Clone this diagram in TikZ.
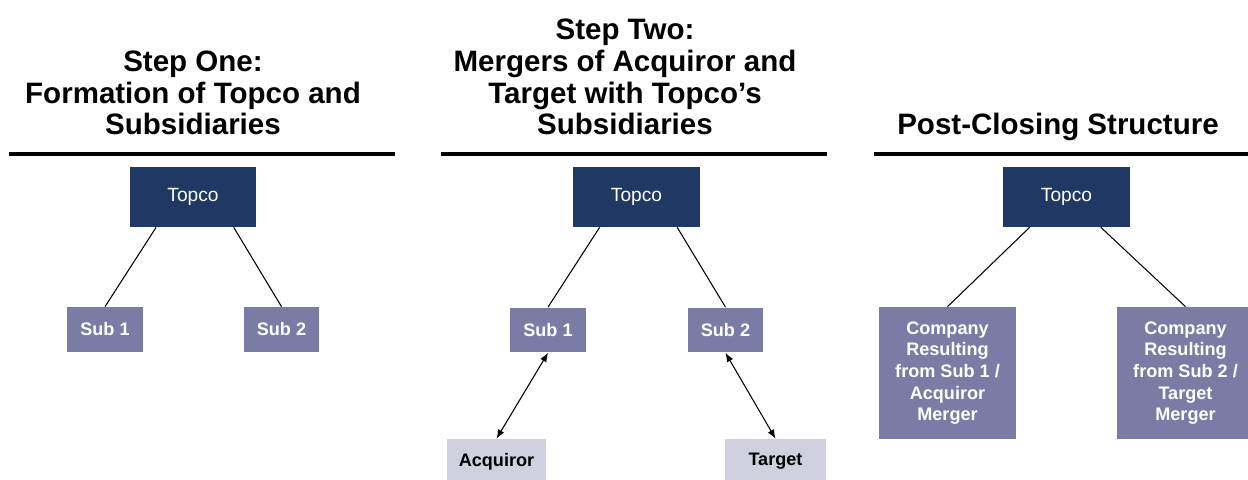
\documentclass[tikz,border=0pt]{standalone}
\usepackage{fontspec}
\setmainfont{Liberation Sans}
\usetikzlibrary{arrows.meta,calc}
\definecolor{topnavy}{HTML}{203864}
\definecolor{subslate}{HTML}{7B7CA6}
\definecolor{partylilac}{HTML}{D0D0E1}

\begin{document}
\begin{tikzpicture}[x=0.02cm,y=-0.02cm,
  every node/.style={inner sep=0pt,align=center},
  phasetitle/.style={font=\fontsize{16.8}{18}\selectfont\bfseries,anchor=south,text depth=0pt},
  hdrule/.style={line width=2pt},
  parent/.style={fill=topnavy,text=white,font=\fontsize{10.9}{13}\selectfont,minimum width=2.53cm,minimum height=1.2cm},
  subbox/.style={fill=subslate,text=white,font=\fontsize{10.3}{12.3}\selectfont\bfseries,minimum height=0.9cm},
  party/.style={fill=partylilac,text=black,font=\fontsize{10.3}{12.3}\selectfont\bfseries,minimum height=0.9cm},
  tie/.style={draw=black,line width=0.6pt},
  swap/.style={tie,{Latex[length=1.8mm,width=1.4mm]}-{Latex[length=1.8mm,width=1.4mm]}}
]
  \clip (0,0) rectangle (1248,480);

  % step one
  \node[phasetitle] (titleA) at (193,135) {Step One:\\Formation of Topco and\\Subsidiaries};
  \draw[hdrule] (9,154) -- (395,154);
  \node[parent] (topA) at (193,197) {Topco};
  \node[subbox,minimum width=1.52cm] (subA1) at (105,329.5) {Sub 1};
  \node[subbox,minimum width=1.5cm] (subA2) at (281.5,329.5) {Sub 2};
  \draw[tie] ($(topA.south west)!0.21!(topA.south east)$) -- (subA1.north);
  \draw[tie] ($(topA.south west)!0.82!(topA.south east)$) -- (subA2.north);

  % step two
  \node[phasetitle] (titleB) at (625,135) {Step Two:\\Mergers of Acquiror and\\Target with Topco’s\\Subsidiaries};
  \draw[hdrule] (441,154) -- (827,154);
  \node[parent] (topB) at (636.5,197) {Topco};
  \node[subbox,minimum width=1.52cm] (subB1) at (548,330) {Sub 1};
  \node[subbox,minimum width=1.5cm] (subB2) at (725.5,330) {Sub 2};
  \node[party,minimum width=1.98cm] (acq) at (496.5,461.5) {Acquiror};
  \node[party,minimum width=2.02cm] (tgt) at (775.5,461.5) {Target};
  \draw[tie] ($(topB.south west)!0.21!(topB.south east)$) -- (subB1.north);
  \draw[tie] ($(topB.south west)!0.82!(topB.south east)$) -- (subB2.north);
  \draw[swap] (subB1.south) -- (acq.north);
  \draw[swap] (subB2.south) -- (tgt.north);

  % post-closing
  \node[phasetitle] (titleC) at (1058,135) {Post-Closing Structure};
  \draw[hdrule] (874,154) -- (1260,154);
  \node[parent] (topC) at (1066.5,197) {Topco};
  \node[subbox,minimum width=2.74cm,minimum height=2.64cm] (resA) at (947.5,373) {Company\\Resulting\\from Sub 1 /\\Acquiror\\Merger};
  \node[subbox,minimum width=2.76cm,minimum height=2.64cm] (resB) at (1185.5,373) {Company\\Resulting\\from Sub 2 /\\Target\\Merger};
  \draw[tie] ($(topC.south west)!0.21!(topC.south east)$) -- (resA.north);
  \draw[tie] ($(topC.south west)!0.77!(topC.south east)$) -- (resB.north);
\end{tikzpicture}
\end{document}
